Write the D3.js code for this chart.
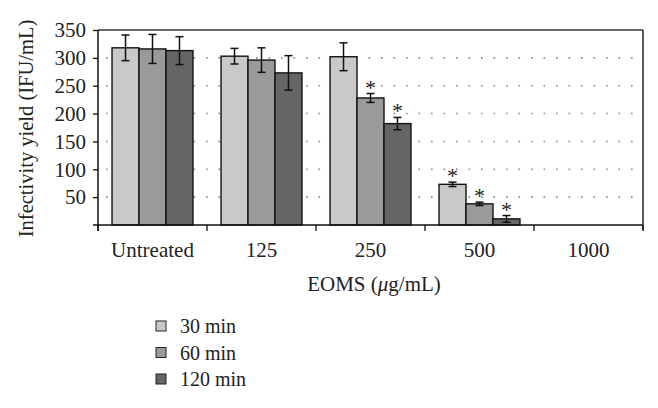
<!DOCTYPE html>
<html><head><meta charset="utf-8">
<script src="https://cdn.jsdelivr.net/npm/d3@7"></script>
<style>body{margin:0;background:#fff}text{font-family:"Liberation Serif","DejaVu Serif",serif;fill:#222}</style>
</head><body>
<svg id="c" width="658" height="408"></svg>
<script>
const categories = ["Untreated","125","250","500","1000"];
const seriesNames = ["30 min","60 min","120 min"];
const values30 = [318, 303, 302, 73, 0];
const values60 = [316, 296, 228, 38, 0];
const values120 = [313, 273, 182, 11, 0];
const err30 = [23, 14, 25, 4, 0];
const err60 = [26, 22, 8, 3, 0];
const err120 = [25, 31, 11, 6, 0];
const sig30 = [false, false, false, true, false];
const sig60 = [false, false, true, true, false];
const sig120 = [false, false, true, true, false];
const yTicks = [50,100,150,200,250,300,350];
const colors = ["#c9c9c9","#9a9a9a","#656565"];

const vals = [values30, values60, values120];
const errs = [err30, err60, err120];
const sigs = [sig30, sig60, sig120];

const svg = d3.select("#c");
const L = 98, R = 643, T = 30, B = 225;
const x0 = d3.scaleBand().domain(categories).range([L, R]).paddingInner(0).paddingOuter(0);
const x1 = d3.scaleBand().domain(seriesNames).range([0, x0.bandwidth()]).paddingInner(0).paddingOuter(0.52);
const y = d3.scaleLinear().domain([0, 350]).range([B, T]);

// dotted grid
const grid = svg.append("g");
yTicks.filter(t => t < 350).forEach(t => {
  grid.append("line").attr("x1", L + 8).attr("x2", R - 4).attr("y1", y(t)).attr("y2", y(t))
    .attr("stroke", "#888").attr("stroke-width", 1.6).attr("stroke-dasharray", "1.6,10.9");
});

// frame top/right
svg.append("line").attr("x1", L).attr("x2", R).attr("y1", T).attr("y2", T).attr("stroke", "#333").attr("stroke-width", 1.6);
svg.append("line").attr("x1", R).attr("x2", R).attr("y1", T).attr("y2", B + 5).attr("stroke", "#333").attr("stroke-width", 1.6);

// bars
const rows = [];
categories.forEach((c, i) => seriesNames.forEach((s, j) => rows.push({c, s, j, v: vals[j][i], e: errs[j][i], sig: sigs[j][i]})));
const bars = svg.append("g");
bars.selectAll("rect").data(rows).join("rect")
  .attr("x", d => x0(d.c) + x1(d.s))
  .attr("y", d => y(d.v))
  .attr("width", x1.bandwidth())
  .attr("height", d => Math.max(0, y(0) - y(d.v)))
  .attr("fill", d => colors[d.j])
  .attr("stroke", d => d.v > 0 ? "#111" : "#555")
  .attr("stroke-width", d => d.v > 0 ? 1.4 : 2);

// error bars
const eg = svg.append("g").attr("stroke", "#111").attr("stroke-width", 1.5);
rows.filter(d => d.v > 0).forEach(d => {
  const cx = x0(d.c) + x1(d.s) + x1.bandwidth() / 2;
  eg.append("line").attr("x1", cx).attr("x2", cx).attr("y1", y(d.v + d.e)).attr("y2", y(d.v - d.e));
  eg.append("line").attr("x1", cx - 4).attr("x2", cx + 4).attr("y1", y(d.v + d.e)).attr("y2", y(d.v + d.e));
  eg.append("line").attr("x1", cx - 4).attr("x2", cx + 4).attr("y1", y(d.v - d.e)).attr("y2", y(d.v - d.e));
});

// asterisks
svg.append("g").selectAll("text").data(rows.filter(d => d.sig)).join("text")
  .attr("x", d => x0(d.c) + x1(d.s) + x1.bandwidth() / 2)
  .attr("y", d => y(d.v + d.e) + 1)
  .attr("text-anchor", "middle").style("font-size", "22px").text("*");

// y axis
const ya = svg.append("g").attr("transform", `translate(${L},0)`)
  .call(d3.axisLeft(y).tickValues(yTicks).tickSize(5).tickPadding(7));
ya.select(".domain").attr("d", `M0,${T}V${B + 6}`).attr("stroke", "#111").attr("stroke-width", 1.5);
ya.selectAll(".tick line").attr("stroke", "#111").attr("stroke-width", 1.3);
ya.selectAll("text").style("font-size", "21px").attr("fill", "#222").attr("font-family", null);

// x axis
const xa = svg.append("g").attr("transform", `translate(0,${B})`);
xa.append("line").attr("x1", L - 5).attr("x2", R).attr("y1", 0).attr("y2", 0).attr("stroke", "#111").attr("stroke-width", 1.6);
const bounds = categories.map(c => x0(c)).concat([R]);
xa.selectAll("line.tk").data(bounds).join("line").attr("class", "tk")
  .attr("x1", d => d).attr("x2", d => d).attr("y1", 0).attr("y2", 6).attr("stroke", "#111").attr("stroke-width", 1.3);
xa.selectAll("text").data(categories).join("text")
  .attr("x", d => x0(d) + x0.bandwidth() / 2).attr("y", 32)
  .attr("text-anchor", "middle").style("font-size", "21px").text(d => d);

// axis titles
svg.append("text").attr("x", 374).attr("y", 291).attr("text-anchor", "middle").style("font-size", "21px")
  .html('EOMS (<tspan font-style="italic">μ</tspan>g/mL)');
svg.append("text").attr("transform", `translate(33,${(T + B) / 2 + 1}) rotate(-90)`).attr("text-anchor", "middle")
  .style("font-size", "20.5px").text("Infectivity yield (IFU/mL)");

// legend
const lg = svg.append("g");
seriesNames.forEach((s, j) => {
  const yy = 333 + j * 26.5;
  lg.append("rect").attr("x", 156).attr("y", yy - 12).attr("width", 10).attr("height", 10)
    .attr("fill", colors[j]).attr("stroke", "#222").attr("stroke-width", 1);
  lg.append("text").attr("x", 180).attr("y", yy).style("font-size", "20px").text(s);
});
</script>
</body></html>
